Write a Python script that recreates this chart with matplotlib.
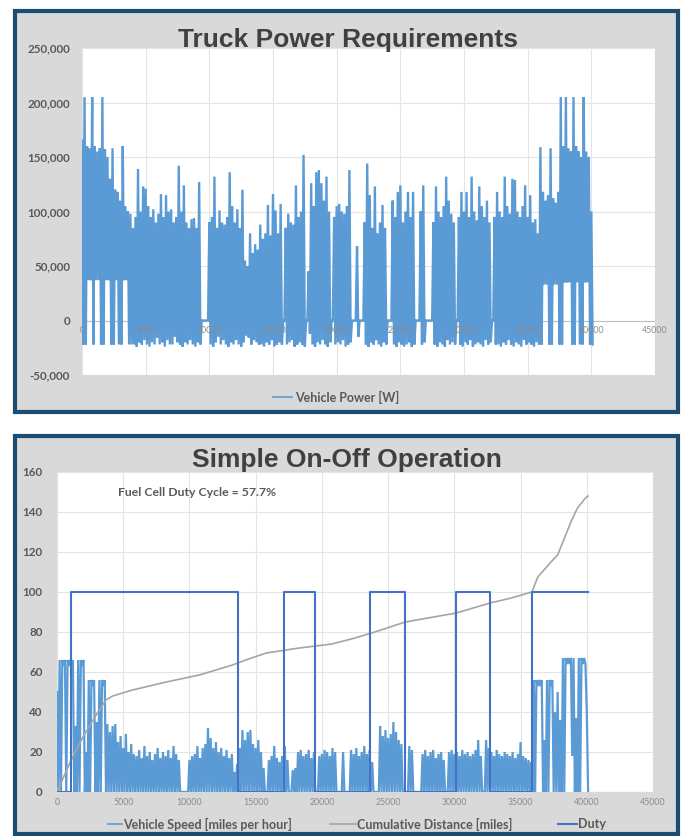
import numpy as np
import matplotlib.pyplot as plt
from matplotlib.patches import Rectangle
from matplotlib.lines import Line2D

W, H = 681, 836

# drive cycle sampled every 200 s (peak / trough within each bin)
bin_step = 200

power_peak_kw = [
    165, 205, 160, 158, 205, 160, 155, 158, 205, 157,
    150, 130, 158, 120, 118, 110, 160, 105, 100, 98,
    85, 95, 139, 100, 123, 121, 105, 95, 102, 90,
    98, 116, 95, 115, 100, 102, 90, 95, 142, 100,
    124, 90, 85, 93, 94, 85, 127, 0, 0, 0,
    90, 95, 132, 85, 101, 90, 88, 95, 136, 105,
    90, 102, 85, 120, 55, 50, 80, 62, 70, 65,
    88, 75, 80, 106, 78, 116, 101, 80, 107, 0,
    85, 98, 90, 88, 124, 95, 100, 152, 0, 45,
    126, 105, 136, 138, 126, 110, 132, 100, 0, 95,
    105, 107, 100, 98, 105, 138, 0, 0, 68, 0,
    0, 90, 144, 115, 85, 123, 80, 90, 106, 85,
    0, 0, 110, 95, 118, 124, 90, 100, 118, 95,
    118, 0, 0, 100, 124, 0, 0, 0, 90, 123,
    100, 95, 105, 132, 110, 98, 90, 0, 95, 118,
    100, 118, 95, 132, 100, 92, 123, 105, 95, 110,
    90, 0, 95, 118, 100, 95, 132, 105, 98, 130,
    129, 100, 95, 105, 124, 95, 115, 90, 93, 80,
    159, 118, 110, 115, 158, 112, 108, 118, 205, 160,
    205, 158, 155, 205, 160, 155, 150, 205, 155, 150,
    100,
]

power_trough_kw = [
    -22, -22, 37, 37, -22, 37, 37, -22, -22, 37,
    37, -22, -22, 37, -22, -22, 37, 37, -22, -22,
    -22, -24, -20, -22, -18, -22, -24, -20, -22, -16,
    -22, -20, -24, -18, -22, -22, -15, -20, -22, -24,
    -20, -22, -18, -22, -24, -20, -22, 0, 0, 0,
    -22, -24, -20, -15, -22, -18, -22, -24, -20, -22,
    -18, -22, -24, -20, -14, -16, -22, -18, -20, -22,
    -22, -24, -20, -22, -18, -24, -22, -20, -22, 0,
    -22, -20, -18, -24, -22, -20, -22, -24, 0, -12,
    -22, -24, -20, -22, -18, -22, -24, -20, 0, -22,
    -20, -22, -18, -24, -22, -20, 0, 0, -15, 0,
    0, -22, -24, -20, -22, -18, -22, -24, -20, -22,
    0, 0, -22, -24, -20, -22, -24, -22, -20, -24,
    -22, 0, 0, -22, -20, 0, 0, 0, -22, -24,
    -20, -22, -24, -18, -22, -20, -22, 0, -22, -24,
    -20, -22, -18, -24, -22, -20, -22, -24, -18, -22,
    -20, 0, -22, -22, -24, -20, -22, -18, -22, -24,
    -20, -22, -24, -18, -22, -20, -22, -24, -20, -22,
    -22, 33, 33, -22, -22, 33, 33, -22, -22, 35,
    35, 35, -22, -22, 35, -22, -22, 35, 35, -22,
    -22,
]

speed_peak_mph = [
    50, 66, 66, 66, 66, 66, 66, 33, 66, 66,
    66, 20, 56, 56, 56, 35, 56, 56, 56, 34,
    30, 33, 34, 25, 28, 22, 29, 20, 24, 19,
    18, 21, 17, 23, 18, 20, 16, 19, 22, 17,
    20, 18, 21, 17, 23, 19, 16, 0, 0, 0,
    16, 18, 19, 23, 17, 22, 24, 32, 27, 22,
    25, 20, 22, 18, 21, 17, 19, 10, 14, 22,
    31, 26, 30, 31, 24, 22, 26, 20, 12, 0,
    16, 18, 23, 17, 15, 18, 23, 16, 0, 11,
    12, 20, 21, 18, 19, 21, 17, 20, 0, 18,
    19, 21, 20, 18, 22, 20, 0, 0, 20, 0,
    0, 21, 19, 22, 18, 20, 23, 19, 21, 15,
    0, 0, 33, 28, 31, 27, 29, 35, 30, 26,
    24, 0, 0, 23, 21, 0, 0, 0, 19, 21,
    18, 20, 21, 17, 19, 20, 16, 0, 20, 21,
    19, 20, 18, 21, 19, 20, 18, 19, 21, 26,
    18, 0, 26, 22, 20, 18, 21, 19, 18, 20,
    19, 18, 20, 17, 19, 25, 18, 17, 16, 15,
    56, 56, 56, 56, 26, 56, 56, 56, 40, 50,
    36, 67, 67, 67, 67, 67, 37, 67, 67, 67,
    40,
]

speed_trough_mph = [
    0, 0, 63, 0, 63, 63, 0, 0, 0, 63,
    0, 0, 0, 53, 0, 0, 0, 53, 0, 0,
    0, 0, 0, 0, 0, 0, 0, 0, 0, 0,
    0, 0, 0, 0, 0, 0, 0, 0, 0, 0,
    0, 0, 0, 0, 0, 0, 0, 0, 0, 0,
    0, 0, 0, 0, 0, 0, 0, 0, 0, 0,
    0, 0, 0, 0, 0, 0, 0, 0, 0, 0,
    0, 0, 0, 0, 0, 0, 0, 0, 0, 0,
    0, 0, 0, 0, 0, 0, 0, 0, 0, 0,
    0, 0, 0, 0, 0, 0, 0, 0, 0, 0,
    0, 0, 0, 0, 0, 0, 0, 0, 0, 0,
    0, 0, 0, 0, 0, 0, 0, 0, 0, 0,
    0, 0, 0, 0, 0, 0, 0, 0, 0, 0,
    0, 0, 0, 0, 0, 0, 0, 0, 0, 0,
    0, 0, 0, 0, 0, 0, 0, 0, 0, 0,
    0, 0, 0, 0, 0, 0, 0, 0, 0, 0,
    0, 0, 0, 0, 0, 0, 0, 0, 0, 0,
    0, 0, 0, 0, 0, 0, 0, 0, 0, 0,
    0, 53, 53, 0, 0, 0, 53, 0, 0, 0,
    0, 0, 64, 64, 18, 0, 0, 0, 64, 64,
    0,
]

dist_times = [0, 1000, 2000, 3000, 3700, 4200, 5700, 8250, 10750, 13250,
              14250, 15800, 18300, 20750, 22500, 24000, 26300, 28000, 30150,
              32700, 34300, 35860, 36300, 37300, 37800, 38800, 39300, 39900, 40100]
dist_miles = [0, 15, 28, 39, 46, 48, 51, 55, 58.5, 63.5,
              66, 69.5, 72, 74, 77, 80, 85, 87, 89.5,
              94.5, 97, 100, 107.5, 115, 118.5, 135, 142, 147, 148]

duty_times = [0, 1050, 13700, 17150, 19470, 23600, 26300, 30150, 32700, 35860, 40100]
duty_values = [0, 100, 0, 100, 0, 100, 0, 100, 0, 100, 100]

x_ticks = [0, 5000, 10000, 15000, 20000, 25000, 30000, 35000, 40000, 45000]
power_ticks = [-50000, 0, 50000, 100000, 150000, 200000, 250000]
speed_ticks = [0, 20, 40, 60, 80, 100, 120, 140, 160]

BLUE = "#5b9bd5"
DUTY = "#4472c4"
GREY_LINE = "#a5a5a5"
TXT = "#595959"
PANEL = "#d9d9d9"
BORDER = "#1b4d72"
SMALL = ["Lato", "DejaVu Sans"]
TITLE = ["Liberation Sans", "DejaVu Sans"]


def fx(px):
    return px / W


def fy(py):
    return 1 - py / H


def zigzag(peak, trough, scale=1.0):
    t = np.arange(len(peak)) * bin_step
    xs = np.empty(2 * len(t))
    ys = np.empty(2 * len(t))
    xs[0::2] = t
    xs[1::2] = t + bin_step / 2
    ys[0::2] = np.asarray(peak, dtype=float) * scale
    ys[1::2] = np.asarray(trough, dtype=float) * scale
    return xs, ys


def style_axes(ax, yticks, ylabels, ypad):
    ax.set_xlim(0, x_ticks[-1])
    ax.set_ylim(yticks[0], yticks[-1])
    ax.set_xticks(x_ticks)
    ax.set_yticks(yticks)
    ax.set_xticklabels([])
    ax.set_yticklabels(ylabels, fontfamily=SMALL, fontweight="bold",
                       fontsize=8.4, color=TXT)
    ax.tick_params(length=0, pad=ypad)
    ax.grid(True, color="#e4e4e4", lw=0.8)
    ax.set_axisbelow(True)
    for s in ax.spines.values():
        s.set_visible(False)
    for t in x_ticks:
        ax.annotate(str(t), (t, 0), xytext=(0, -7.3), textcoords="offset points",
                    ha="center", va="center", fontsize=6.3, color="#8a8a8a",
                    fontfamily=SMALL, zorder=6, annotation_clip=False)


fig = plt.figure(figsize=(W / 100, H / 100), dpi=100)
fig.patch.set_facecolor("white")

# panel backgrounds with dark blue frames
for (x0, y0, x1, y1) in [(14.5, 10.5, 677.5, 411.5), (14.5, 435.5, 677.5, 834)]:
    fig.add_artist(Rectangle((fx(x0), fy(y1)), fx(x1) - fx(x0), fy(y0) - fy(y1),
                             transform=fig.transFigure, facecolor=PANEL,
                             edgecolor=BORDER, lw=3.0, zorder=0))

# --- Truck power requirements ---
ax1 = fig.add_axes([fx(82), fy(375), fx(655) - fx(82), fy(48) - fy(375)])
ax1.set_facecolor("white")
px_, py_ = zigzag(power_peak_kw, power_trough_kw, 1000)
ax1.plot(px_, py_, color=BLUE, lw=1.7, zorder=3, solid_joinstyle="miter")
ax1.axhline(0, color="#bfbfbf", lw=0.8, zorder=2)
style_axes(ax1, power_ticks, [f"{v:,}" for v in power_ticks], 8.6)

fig.text(fx(348), fy(47.5), "Truck Power Requirements", ha="center", va="baseline",
         fontsize=19, fontweight="bold", color="#404040", fontfamily=TITLE)
fig.add_artist(Line2D([fx(273), fx(292)], [fy(397), fy(397)], color=BLUE, lw=1.2))
fig.text(fx(295), fy(397), "Vehicle Power [W]", ha="left", va="center",
         fontsize=9, fontweight="bold", color=TXT, fontfamily=SMALL)

# --- Simple on-off operation ---
ax2 = fig.add_axes([fx(57), fy(792), fx(653) - fx(57), fy(472) - fy(792)])
ax2.set_facecolor("white")
sx, sy = zigzag(speed_peak_mph, speed_trough_mph)
ax2.plot(sx, sy, color=BLUE, lw=1.6, zorder=3, solid_joinstyle="miter")
ax2.plot(dist_times, dist_miles, color=GREY_LINE, lw=1.2, zorder=4)
ax2.step(duty_times, duty_values, where="post", color=DUTY, lw=1.5, zorder=5)
ax2.axhline(0, color="#bfbfbf", lw=0.8, zorder=2)
style_axes(ax2, speed_ticks, [str(v) for v in speed_ticks], 10.5)
ax2.text(4600, 149.5, "Fuel Cell Duty Cycle = 57.7%", ha="left", va="center",
         fontsize=8.8, fontweight="bold", color=TXT, fontfamily=SMALL)

fig.text(fx(347), fy(466.5), "Simple On-Off Operation", ha="center", va="baseline",
         fontsize=19, fontweight="bold", color="#404040", fontfamily=TITLE)

legend_items = [
    (108, 122, "Vehicle Speed [miles per hour]", BLUE, 1.2),
    (330, 356, "Cumulative Distance [miles]", GREY_LINE, 1.2),
    (558, 577, "Duty", DUTY, 1.5),
]
for x0, x1, label, col, lw in legend_items:
    fig.add_artist(Line2D([fx(x0), fx(x1)], [fy(824), fy(824)], color=col, lw=lw))
    fig.text(fx(x1 + 1), fy(824), label, ha="left", va="center", fontsize=9,
             fontweight="bold", color=TXT, fontfamily=SMALL)

fig.savefig("out.png", dpi=100)
